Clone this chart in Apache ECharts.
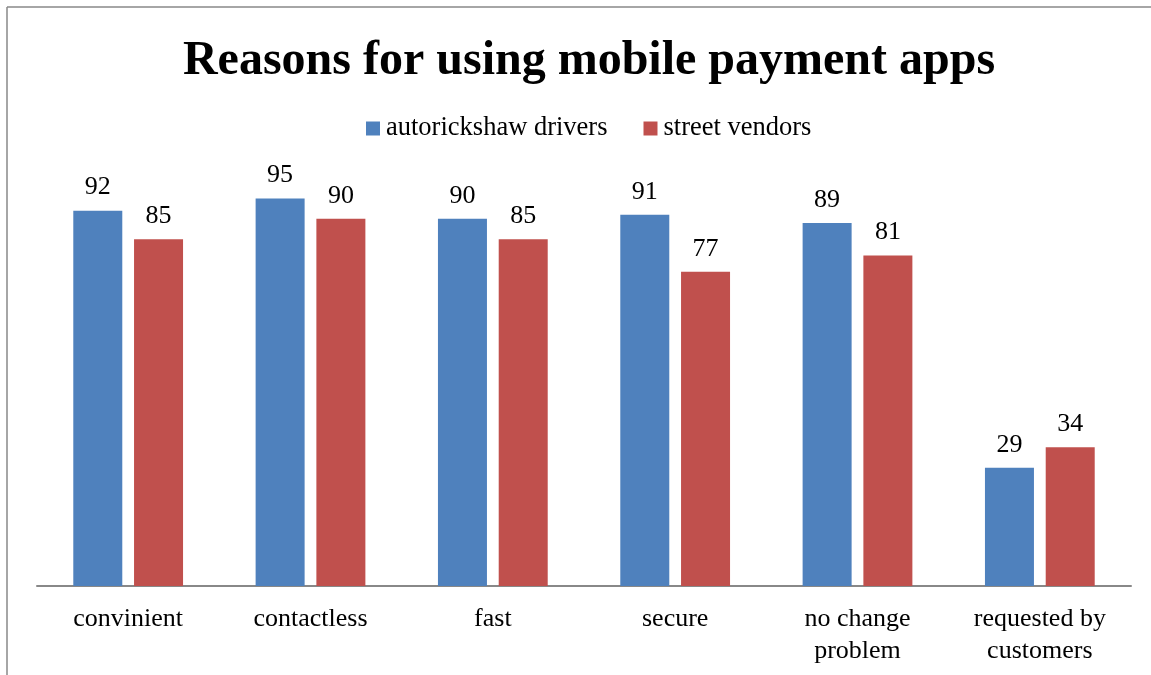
<!DOCTYPE html>
<html>
<head>
<meta charset="utf-8">
<script src="https://cdn.jsdelivr.net/npm/echarts@6/dist/echarts.min.js"></script>
<style>
  html, body { margin: 0; padding: 0; background: #fff; }
  #chart { width: 1151px; height: 675px; }
</style>
</head>
<body>
<div id="chart"></div>
<script>
// Survey results: share of respondents citing each reason
const categories = ['convinient', 'contactless', 'fast', 'secure', 'no change\nproblem', 'requested by\ncustomers'];
const autorickshawDrivers = [92, 95, 90, 91, 89, 29];
const streetVendors = [85, 90, 85, 77, 81, 34];
const seriesNames = ['autorickshaw drivers', 'street vendors'];

const serif = '"Liberation Serif", "Times New Roman", serif';
const chart = echarts.init(document.getElementById('chart'));

const labelStyle = {
  show: true,
  position: 'top',
  distance: 10,
  fontFamily: serif,
  fontSize: 26,
  color: '#000'
};

chart.setOption({
  backgroundColor: '#fff',
  animation: false,
  title: {
    text: 'Reasons for using mobile payment apps',
    left: 584,
    textAlign: 'center',
    top: 33,
    textStyle: { fontFamily: serif, fontSize: 48, fontWeight: 'bold', color: '#000' }
  },
  legend: {
    top: 110,
    left: 361,
    itemWidth: 14,
    itemHeight: 14,
    itemGap: 36,
    icon: 'rect',
    textStyle: { fontFamily: serif, fontSize: 26.5, color: '#000', padding: [0, 0, 0, 1] },
    data: seriesNames
  },
  grid: { left: 37, right: 20, top: 178, bottom: 89 },
  xAxis: {
    type: 'category',
    data: categories,
    axisLine: { lineStyle: { color: '#888', width: 2 } },
    axisTick: { show: false },
    axisLabel: { fontFamily: serif, fontSize: 26, color: '#000', margin: 17, lineHeight: 32, interval: 0 }
  },
  yAxis: {
    type: 'value',
    min: 0,
    max: 100,
    show: false,
    splitLine: { show: false }
  },
  series: [
    {
      name: seriesNames[0],
      type: 'bar',
      data: autorickshawDrivers,
      barWidth: 49,
      barGap: '24%',
      itemStyle: { color: '#4F81BD' },
      label: labelStyle
    },
    {
      name: seriesNames[1],
      type: 'bar',
      data: streetVendors,
      barWidth: 49,
      itemStyle: { color: '#C0504D' },
      label: labelStyle
    }
  ],
  graphic: [
    { type: 'line', shape: { x1: 7, y1: 7, x2: 1151, y2: 7 }, style: { stroke: '#888', lineWidth: 1.5 } },
    { type: 'line', shape: { x1: 7, y1: 7, x2: 7, y2: 675 }, style: { stroke: '#888', lineWidth: 1.5 } }
  ]
});
</script>
</body>
</html>
